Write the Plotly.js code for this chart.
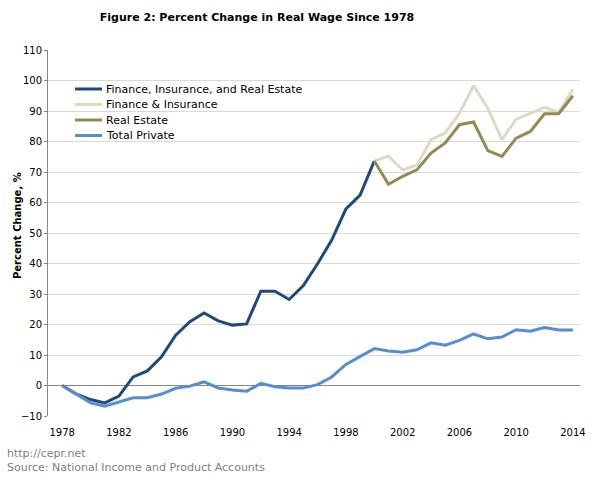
<!DOCTYPE html>
<html>
<head>
<meta charset="utf-8">
<script src="https://cdn.plot.ly/plotly-3.0.1.min.js"></script>
<style>html,body{margin:0;padding:0;background:#fff;}#chart{width:600px;height:480px;}</style>
</head>
<body>
<div id="chart"></div>
<script>
const years = [1978,1979,1980,1981,1982,1983,1984,1985,1986,1987,1988,1989,1990,1991,1992,1993,1994,1995,1996,1997,1998,1999,2000];
const fire = [0,-2.8,-4.6,-5.7,-3.5,2.8,4.8,9.4,16.5,20.9,23.8,21.2,19.8,20.2,30.9,30.9,28.2,32.8,39.9,47.7,57.9,62.4,73.6];

const yearsSplit = [2000,2001,2002,2003,2004,2005,2006,2007,2008,2009,2010,2011,2012,2013,2014];
const finIns = [73.6,75.2,70.7,72.3,80.6,82.8,89.3,98.3,90.9,80.6,87.3,89.3,91.2,89.5,97.2];
const realEstate = [73.6,66.0,68.6,70.7,76.2,79.5,85.5,86.4,77.0,75.1,81.1,83.3,89.1,89.1,95.0];

const yearsAll = [1978,1979,1980,1981,1982,1983,1984,1985,1986,1987,1988,1989,1990,1991,1992,1993,1994,1995,1996,1997,1998,1999,2000,2001,2002,2003,2004,2005,2006,2007,2008,2009,2010,2011,2012,2013,2014];
const totalPrivate = [0,-2.8,-5.7,-6.8,-5.4,-4.0,-4.0,-2.8,-0.9,-0.2,1.2,-0.8,-1.5,-1.9,0.7,-0.4,-0.8,-0.8,0.3,2.8,6.9,9.4,12.1,11.3,10.9,11.7,14.0,13.2,14.8,16.9,15.3,15.9,18.3,17.8,19.0,18.2,18.2];

const seriesNames = ['Finance, Insurance, and Real Estate','Finance & Insurance','Real Estate','Total Private'];
const seriesColors = ['#1f497d','#ddd9c4','#948a54','#558ed5'];

const xTicks = [1978,1982,1986,1990,1994,1998,2002,2006,2010,2014];
const yTicks = [-10,0,10,20,30,40,50,60,70,80,90,100,110];

const font = 'Verdana, "DejaVu Sans", sans-serif';
const lw = 3;
const xs = [years, yearsSplit, yearsSplit, yearsAll];
const ys = [fire, finIns, realEstate, totalPrivate];
const traces = xs.map((x, i) => ({x: x, y: ys[i], name: seriesNames[i], mode: 'lines',
  line: {color: seriesColors[i], width: lw}, showlegend: false}));

// plot area geometry (pixels) for placing the legend block and texts
const L = 48, T = 50, W = 532, H = 366;
const px = p => (p - L) / W;
const py = p => (T + H - p) / H;
const legendRows = [89, 104.5, 120, 135.5];
const shapes = [];
const annotations = [];
seriesNames.forEach((n, i) => {
  shapes.push({type: 'line', xref: 'paper', yref: 'paper', x0: px(75), x1: px(102), y0: py(legendRows[i]), y1: py(legendRows[i]),
               line: {color: seriesColors[i], width: lw}});
  annotations.push({text: n, xref: 'paper', yref: 'paper', x: px(104), y: py(legendRows[i]), xanchor: 'left', yanchor: 'middle',
                    showarrow: false, font: {family: font, size: 11, color: '#000'}});
});
annotations.push({text: 'http://cepr.net<br>Source: National Income and Product Accounts', xref: 'paper', yref: 'paper',
  x: px(5), y: py(445), xanchor: 'left', yanchor: 'top', align: 'left', showarrow: false,
  font: {family: font, size: 11, color: '#7f7f7f'}});
annotations.push({text: '<b>Percent Change, %</b>', xref: 'paper', yref: 'paper', x: px(17), y: py(226),
  xanchor: 'center', yanchor: 'middle', textangle: -90, showarrow: false, font: {family: font, size: 10, color: '#000'}});

const layout = {
  width: 600, height: 480,
  margin: {l: L, r: 600 - L - W, t: T, b: 480 - T - H},
  paper_bgcolor: '#fff', plot_bgcolor: '#fff',
  font: {family: font, size: 10, color: '#000'},
  showlegend: false,
  title: {text: '<b>Figure 2: Percent Change in Real Wage Since 1978</b>', font: {family: font, size: 11, color: '#000'},
          x: px(257), xanchor: 'center', xref: 'paper', y: 1 - 17/480, yanchor: 'middle'},
  xaxis: {range: [1977.0, 2014.5], tickvals: xTicks, ticktext: xTicks.map(String), showgrid: false, zeroline: false,
          showline: false, ticks: 'outside', ticklen: 7, tickcolor: 'rgba(0,0,0,0)', tickfont: {family: font, size: 10}, fixedrange: true},
  yaxis: {range: [-10, 110], tickvals: yTicks, showgrid: true, gridcolor: '#d9d9d9', gridwidth: 1,
          zeroline: true, zerolinecolor: '#868686', zerolinewidth: 1.5,
          showline: true, linecolor: '#868686', linewidth: 1, ticks: 'outside', ticklen: 3, tickcolor: '#868686',
          tickfont: {family: font, size: 10}},
  shapes: shapes,
  annotations: annotations
};

Plotly.newPlot('chart', traces, layout, {displayModeBar: false, staticPlot: true});
</script>
</body>
</html>
